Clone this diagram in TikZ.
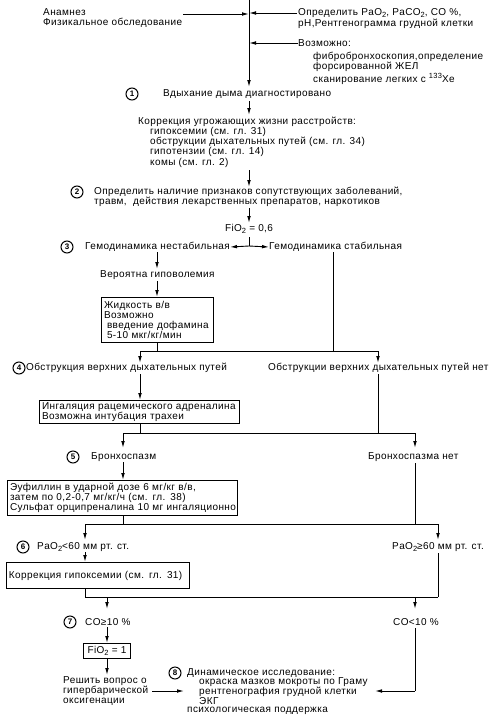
\documentclass[tikz,border=0pt]{standalone}
\usepackage{fontspec}
\setmainfont[LetterSpace=4]{Liberation Sans}
\usetikzlibrary{arrows.meta}
\newcommand\sbt[1]{\raisebox{-0.35ex}{\fontsize{7.5}{7.5}\selectfont #1}}
\newcommand\spt[1]{\raisebox{0.9ex}{\fontsize{7.5}{7.5}\selectfont #1}}
\tikzset{
  txt/.style={anchor=west, inner sep=0pt, font=\fontsize{10}{10.2}\selectfont, align=left},
  boxed/.style={draw, line width=1pt, anchor=north west, align=left, inner xsep=2.5pt, inner ysep=1pt, font=\fontsize{10}{10}\selectfont},
  num/.style={draw, circle, line width=1pt, minimum size=12pt, inner sep=0pt, font=\fontsize{8}{8}\bfseries\selectfont},
  ln/.style={line width=0.9pt},
  arr/.style={line width=0.9pt, -{Latex[length=7pt,width=3.6pt]}},
}
\begin{document}
\begin{tikzpicture}[x=1pt,y=-1pt]
\useasboundingbox (0,0) rectangle (491,718);
% top section
\coordinate (top) at (249,0);
\coordinate (m1) at (249,87);
\draw[arr] (top) -- (m1);
\node[txt] (anam) at (43,18) {Анамнез\\Физикальное обследование};
\coordinate (a1) at (183,14);
\coordinate (a2) at (249,14);
\draw[arr] (a1) -- (a2);
\node[txt, font=\fontsize{10}{11}\selectfont] (opr) at (298,18.5) {Определить PaO\sbt{2}, PaCO\sbt{2}, CO \%,\\pH,Рентгенограмма грудной клетки};
\coordinate (b1) at (297,13);
\draw[arr] (b1) -- (b1 -| top);
\node[txt] (voz) at (298,43) {Возможно:};
\draw[arr] (voz.west) -- (voz.west -| top);
\node[txt, anchor=north west] (vozl) at (313,52) {фибробронхоскопия,определение\\форсированной ЖЕЛ\\сканирование легких с \spt{133}Xe};
% step 1
\node[num] (n1) at (132,94) {1};
\node[txt] (t1) at (163,94) {Вдыхание дыма диагностировано};
\coordinate (c1) at (249,101);
\coordinate (c2) at (249,115);
\draw[arr] (c1) -- (c2);
\node[txt] (korr) at (138,122) {Коррекция угрожающих жизни расстройств:};
\node[txt, anchor=north west] (korrl) at (150,127) {гипоксемии (см. гл. 31)\\обструкции дыхательных путей (см. гл. 34)\\гипотензии (см. гл. 14)\\комы (см. гл. 2)};
\coordinate (c3) at (249,170);
\coordinate (c4) at (249,187);
\draw[arr] (c3) -- (c4);
% step 2
\node[num] (n2) at (77,192) {2};
\node[txt] (t2) at (94,197) {Определить наличие признаков сопутствующих заболеваний,\\травм,\ \ действия лекарственных препаратов, наркотиков};
\coordinate (c5) at (249,208);
\coordinate (c6) at (249,223);
\draw[arr] (c5) -- (c6);
\node[txt, anchor=center] (fio) at (249,229) {FiO\sbt{2} = 0,6};
\coordinate (c7) at (249,237);
\coordinate (c8) at (249,246);
\draw[ln] (c7) -- (c8);
% step 3
\node[num] (n3) at (67,247) {3};
\node[txt] (t3a) at (85,247) {Гемодинамика нестабильная};
\node[txt] (t3b) at (269,247) {Гемодинамика стабильная};
\draw[arr] (c8) -- (t3a.east);
\draw[arr] (c8) -- (t3b.west);
\coordinate (d1) at (157,252);
\coordinate (d2) at (157,269);
\draw[arr] (d1) -- (d2);
\node[txt] (hyp) at (100,275) {Вероятна гиповолемия};
\coordinate (d3) at (157,281);
\node[boxed, text width=107pt, minimum height=45pt] (box1) at (101,297) {\mbox{Жидкость в/в}\\\mbox{Возможно}\\\mbox{\hspace*{3pt}введение дофамина}\\\mbox{\hspace*{3pt}5-10 мкг/кг/мин}};
\draw[arr] (d3) -- (d3 |- box1.north);
\coordinate (j1) at (157,351);
\draw[ln] (d3 |- box1.south) -- (j1);
\coordinate (e1) at (333,252);
\coordinate (e2) at (333,351);
\draw[ln] (e1) -- (e2);
\coordinate (h1) at (140,351);
\coordinate (h2) at (378,351);
\draw[ln] (h1) -- (h2);
\coordinate (h1b) at (140,363);
\coordinate (h2b) at (378,363);
\draw[arr] (h1) -- (h1b);
\draw[arr] (h2) -- (h2b);
% step 4
\node[num] (n4) at (19,368) {4};
\node[txt] (t4a) at (26,368) {Обструкция верхних дыхательных путей};
\node[txt] (t4b) at (268,368) {Обструкции верхних дыхательных путей нет};
\coordinate (f1) at (140,374);
\node[boxed, text width=195pt, minimum height=23pt] (box2) at (39,400) {\mbox{Ингаляция рацемического адреналина}\\\mbox{Возможна интубация трахеи}};
\draw[arr] (f1) -- (f1 |- box2.north);
\coordinate (j2) at (140,433);
\draw[ln] (f1 |- box2.south) -- (j2);
\coordinate (f2) at (378,374);
\coordinate (f3) at (378,433);
\draw[ln] (f2) -- (f3);
\coordinate (g1) at (123,433);
\coordinate (g2) at (415,433);
\draw[ln] (g1) -- (g2);
\coordinate (g1b) at (123,448);
\coordinate (g2b) at (415,448);
\draw[arr] (g1) -- (g1b);
\draw[arr] (g2) -- (g2b);
% step 5
\node[num] (n5) at (73,457) {5};
\node[txt] (t5a) at (91,457) {Бронхоспазм};
\node[txt] (t5b) at (368,457) {Бронхоспазма нет};
\coordinate (k1) at (123,462);
\node[boxed, text width=225pt, minimum height=35pt] (box3) at (7,480) {\mbox{Эуфиллин в ударной дозе 6 мг/кг в/в,}\\\mbox{затем по 0,2-0,7 мг/кг/ч (см. гл. 38)}\\\mbox{Сульфат орципреналина 10 мг ингаляционно}};
\draw[arr] (k1) -- (k1 |- box3.north);
\coordinate (j3) at (123,524);
\draw[ln] (k1 |- box3.south) -- (j3);
\coordinate (k2) at (415,463);
\coordinate (k3) at (415,524);
\draw[ln] (k2) -- (k3);
\coordinate (p1) at (85,524);
\coordinate (p2) at (438,524);
\draw[ln] (p1) -- (p2);
\coordinate (p1b) at (85,540);
\coordinate (p2b) at (438,540);
\draw[arr] (p1) -- (p1b);
\draw[arr] (p2) -- (p2b);
% step 6
\node[num] (n6) at (23,547) {6};
\node[txt] (t6a) at (37,547) {PaO\sbt{2}<60 мм рт. ст.};
\node[txt] (t6b) at (392,547) {PaO\sbt{2}≥60 мм рт. ст.};
\coordinate (q1) at (85,552);
\node[boxed, text width=178pt, minimum height=26pt] (box4) at (6,562) {\mbox{Коррекция гипоксемии (см. гл. 31)}};
\draw[arr] (q1) -- (q1 |- box4.north);
\coordinate (r1) at (85,597);
\draw[ln] (q1 |- box4.south) -- (r1);
\coordinate (q2) at (438,553);
\coordinate (r2) at (438,597);
\draw[ln] (q2) -- (r2);
\draw[ln] (r1) -- (r2);
\coordinate (s1) at (107,597);
\coordinate (s2) at (415,597);
\coordinate (s1b) at (107,609);
\coordinate (s2b) at (415,609);
\draw[arr] (s1) -- (s1b);
\draw[arr] (s2) -- (s2b);
% step 7
\node[num] (n7) at (70,622) {7};
\node[txt] (t7a) at (85,622) {CO≥10 \%};
\node[txt] (t7b) at (393,622) {CO<10 \%};
\coordinate (u1) at (107,627);
\node[boxed, anchor=north, inner xsep=2pt, minimum width=47pt, minimum height=15pt, align=center] (box5) at (107,643) {FiO\sbt{2} = 1};
\draw[arr] (u1) -- (box5.north);
\coordinate (u2) at (107,675);
\draw[arr] (box5.south) -- (u2);
\node[txt] (t9) at (63,691) {Решить вопрос о\\гипербарической\\оксигенации};
\coordinate (v1) at (152,691);
\coordinate (v2) at (184,691);
\draw[arr] (v1) -- (v2);
% step 8
\node[num] (n8) at (175,673) {8};
\node[txt] (t8) at (187,673) {Динамическое исследование:};
\node[txt, font=\fontsize{10}{9.6}\selectfont] (t8l) at (199,691) {окраска мазков мокроты по Граму\\рентгенография грудной клетки\\ЭКГ};
\node[txt] (t8p) at (187,711) {психологическая поддержка};
\coordinate (w1) at (415,628);
\coordinate (w2) at (415,691);
\coordinate (w3) at (375,691);
\draw[ln] (w1) -- (w2);
\draw[arr] (w2) -- (w3);
\end{tikzpicture}
\end{document}
